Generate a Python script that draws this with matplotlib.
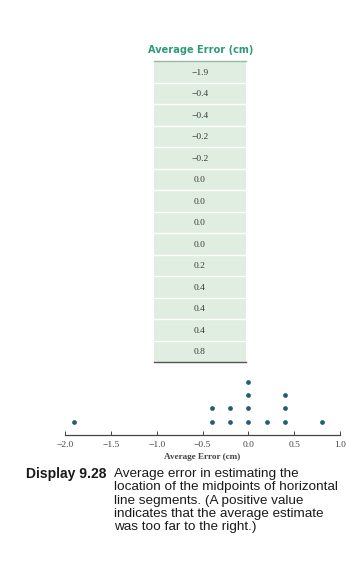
import matplotlib
matplotlib.use("Agg")
import matplotlib.pyplot as plt
from matplotlib.patches import Rectangle

# Data
errors = [-1.9, -0.4, -0.4, -0.2, -0.2, 0.0, 0.0, 0.0, 0.0, 0.2, 0.4, 0.4, 0.4, 0.8]
table_header = "Average Error (cm)"
xticks = [-2.0, -1.5, -1.0, -0.5, 0.0, 0.5, 1.0]
xlabel = "Average Error (cm)"
caption_label = "Display 9.28"
caption_lines = ["Average error in estimating the",
                 "location of the midpoints of horizontal",
                 "line segments. (A positive value",
                 "indicates that the average estimate",
                 "was too far to the right.)"]

W, H = 363, 561
fig = plt.figure(figsize=(W / 100, H / 100), dpi=100)
fig.patch.set_facecolor("white")

def fx(px):
    return px / W

def fy(py):
    return 1 - py / H

# ---- table ----
t_left, t_right, t_top, t_bot = 154, 246, 61, 362
tax = fig.add_axes([fx(t_left), fy(t_bot), fx(t_right - t_left), (t_bot - t_top) / H])
n = len(errors)
tax.set_xlim(0, 1)
tax.set_ylim(n, 0)
tax.axis("off")
for i, v in enumerate(errors):
    tax.add_patch(Rectangle((0, i), 1, 1, facecolor="#dfeee0", edgecolor="none"))
    if i > 0:
        tax.plot([0, 1], [i, i], color="white", lw=1.0)
    s = f"{v:.1f}".replace("-", "\u2212")
    tax.text(0.5, i + 0.55, s, ha="center", va="center", fontsize=6.8,
             family="Liberation Serif", color="#3a3a3a")
tax.plot([0, 1], [0, 0], color="#9ab8a8", lw=1.0, clip_on=False)
tax.plot([0, 1], [n, n], color="#555555", lw=1.0, clip_on=False)
fig.text(fx(201), fy(50), table_header, ha="center", va="center", fontsize=7.8,
         family="DejaVu Sans", fontweight="bold", color="#2f9a79", fontstretch="condensed")

# ---- dot plot ----
a_left, a_right, a_bot, a_top = 65, 340, 435, 375
ax = fig.add_axes([fx(a_left), fy(a_bot), fx(a_right - a_left), (a_bot - a_top) / H])
counts = {}
xs, ys = [], []
for v in errors:
    k = counts.get(v, 0)
    counts[v] = k + 1
    xs.append(v)
    ys.append(k)
ax.plot(xs, ys, "o", color="#1f5f72", markersize=3.4, markeredgewidth=0)
ax.set_xlim(-2.0, 1.0)
ax.set_ylim(-1.0, (a_bot - a_top) / 13.3 - 1.0)
for s in ["top", "right", "left"]:
    ax.spines[s].set_visible(False)
ax.spines["bottom"].set_color("#444444")
ax.spines["bottom"].set_linewidth(0.9)
ax.set_yticks([])
ax.set_xticks(xticks)
ax.set_xticklabels([f"{t:.1f}".replace("-", "\u2212") for t in xticks],
                   family="Liberation Serif", fontsize=6.8, color="#444444")
ax.tick_params(axis="x", direction="in", length=3, width=0.7, color="#444444", pad=4)
ax.patch.set_alpha(0)
ax.set_xlabel(xlabel, family="Liberation Serif", fontsize=6.6, fontweight="bold",
              color="#444444", labelpad=3)

# ---- caption ----
fig.text(fx(26), fy(474), caption_label, ha="left", va="center", fontsize=10.0,
         family="Liberation Sans", fontweight="bold", color="#1a1a1a")
for j, line in enumerate(caption_lines):
    fig.text(fx(114), fy(474 + j * 13.3), line, ha="left", va="center", fontsize=9.7,
             family="Liberation Sans", color="#1a1a1a")

fig.savefig("out.png", dpi=100, facecolor="white")
